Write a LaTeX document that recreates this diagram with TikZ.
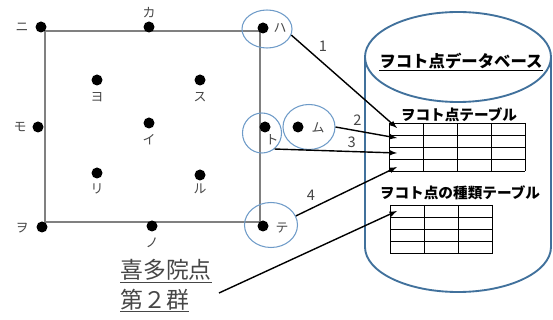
\documentclass[tikz,border=0pt]{standalone}
\usepackage{fontspec}
\setmainfont{Noto Sans CJK JP}
\usepackage{xcolor}
\usetikzlibrary{arrows,calc,shapes}

\definecolor{ringblue}{RGB}{110,155,200}
\definecolor{dbblue}{RGB}{65,113,156}
\definecolor{frame}{RGB}{128,128,128}
\definecolor{ink}{RGB}{70,70,70}

\begin{document}
\begin{tikzpicture}[x=0.03cm, y=-0.03cm,
  dot/.style={circle, fill=black, inner sep=0pt, minimum size=0.33cm},
  lbl/.style={font=\fontsize{11}{12}\selectfont, text=ink, inner sep=0pt},
  ring/.style={ellipse, draw=ringblue, line width=0.9pt, inner sep=0pt},
  link/.style={-latex, line width=1.2pt},
  num/.style={font=\fontsize{12.5}{13}\selectfont, text=ink, inner sep=3pt},
  tbl/.style={line width=0.8pt},
  ttl/.style={font=\fontsize{12.5}{14}\selectfont\bfseries, inner sep=0pt}]
  \useasboundingbox (0,0) rectangle (553,320);

  % point group
  \draw[frame, line width=1pt] (45,31) rectangle (260,222);
  \node[dot] (ni) at (41,27) {};  \node[lbl] (ni-l) at (22,27) {ニ};
  \node[dot] (ka) at (149,27) {}; \node[lbl] (ka-l) at (149,13) {カ};
  \node[dot] (ha) at (263,28) {}; \node[lbl] (ha-l) at (280,28) {ハ};
  \node[dot] (yo) at (97,80) {};  \node[lbl] (yo-l) at (97,97) {ヨ};
  \node[dot] (su) at (200,80) {}; \node[lbl] (su-l) at (200,97) {ス};
  \node[dot] (mo) at (38,127) {}; \node[lbl] (mo-l) at (20,127) {モ};
  \node[dot] (i)  at (149,123) {}; \node[lbl] (i-l) at (149,140) {イ};
  \node[dot] (to) at (265,127) {}; \node[lbl] (to-l) at (272,140) {ト};
  \node[dot] (mu) at (298,127) {}; \node[lbl] (mu-l) at (318,128) {ム};
  \node[dot] (ri) at (97,173) {}; \node[lbl] (ri-l) at (97,189) {リ};
  \node[dot] (ru) at (200,175) {}; \node[lbl] (ru-l) at (200,189) {ル};
  \node[dot] (wo) at (42,227) {}; \node[lbl] (wo-l) at (22,228) {ヲ};
  \node[dot] (no) at (152,226) {}; \node[lbl] (no-l) at (152,243) {ノ};
  \node[dot] (te) at (263,226) {}; \node[lbl] (te-l) at (282,228) {テ};

  % rings
  \node[ring, minimum width=1.5cm, minimum height=1.14cm] (ha-r) at (267,29) {};
  \node[ring, minimum width=1.17cm, minimum height=1.2cm] (to-r) at (262,133) {};
  \node[ring, minimum width=1.56cm, minimum height=1.35cm] (mu-r) at (309,127) {};
  \node[ring, minimum width=1.59cm, minimum height=1.35cm] (te-r) at (271,225) {};

  % database
  \draw[dbblue, line width=1.6pt] (458,57) ellipse [x radius=93, y radius=45];
  \draw[dbblue, line width=1.6pt] (365,57) -- (365,247)
    arc [start angle=180, end angle=0, x radius=93, y radius=45] -- (551,57);
  \node[font=\fontsize{14}{16}\selectfont\bfseries, inner sep=0pt] (db) at (461,62) {\underline{ヲコト点データベース}};
  \node[ttl] (tp-t) at (459,115) {ヲコト点テーブル};
  \node[ttl] (ts-t) at (460,193) {ヲコト点の種類テーブル};
  \foreach \i in {0,...,4} {
    \draw[tbl] (389,123+12*\i) -- (525,123+12*\i);
    \draw[tbl] (389+34*\i,123) -- (389+34*\i,171);
    \draw[tbl] (390,205+12*\i) -- (493,205+12*\i);
  }
  \foreach \i in {0,...,3}
    \draw[tbl] (390+34.3*\i,205) -- (390+34.3*\i,253);
  \coordinate (tp-1) at (397,128);
  \coordinate (tp-2) at (397,138);
  \coordinate (tp-3) at (397,153);
  \coordinate (tp-4) at (397,167);
  \coordinate (ts-1) at (397,211);

  % group name
  \node[font=\fontsize{19.5}{25}\selectfont, text=ink, align=left, inner sep=0pt] (grp) at (166,286)
    {\underline{喜多院点}\\\underline{第２群}};
  \coordinate (grp-e) at (219,293);

  \path[link]
  (ha-r.-14) edge node[num, pos=.22, auto] {1} (tp-1)
  (mu-r.east) edge node[num, pos=.22, auto] {2} (tp-2)
  (to-r.-52) edge node[num, pos=.63, auto] {3} (tp-3)
  (te-r.20) edge node[num, pos=.23, auto] {4} (tp-4)
  (grp-e) edge (ts-1);
\end{tikzpicture}
\end{document}
